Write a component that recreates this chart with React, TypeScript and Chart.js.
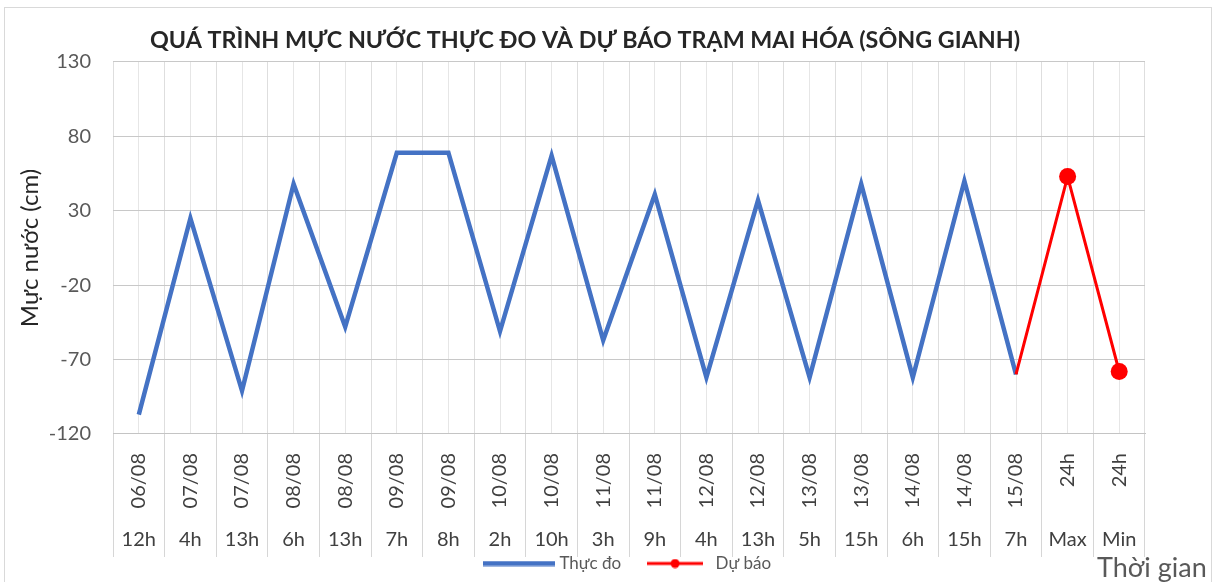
import React, { useEffect, useRef } from "react";
import { Chart, registerables } from "chart.js";

Chart.register(...registerables);

const chartTitle = "QUÁ TRÌNH MỰC NƯỚC THỰC ĐO VÀ DỰ BÁO TRẠM MAI HÓA (SÔNG GIANH)";
const yTitle = "Mực nước (cm)";
const xTitle = "Thời gian";
const seriesNames = ["Thực đo", "Dự báo"];

const dateLabels = [
  "06/08", "07/08", "07/08", "08/08", "08/08", "09/08", "09/08", "10/08", "10/08", "11/08",
  "11/08", "12/08", "12/08", "13/08", "13/08", "14/08", "14/08", "15/08", "24h", "24h",
];
const hourLabels = [
  "12h", "4h", "13h", "6h", "13h", "7h", "8h", "2h", "10h", "3h",
  "9h", "4h", "13h", "5h", "15h", "6h", "15h", "7h", "Max", "Min",
];
const observed = [
  -107, 25, -91, 48, -48, 69, 69, -51, 67, -57,
  41, -82, 37, -82, 48, -82, 50, -80, null, null,
];
const forecast = [
  null, null, null, null, null, null, null, null, null, null,
  null, null, null, null, null, null, null, -80, 53, -78,
];
const yMin = -120;
const yMax = 130;
const yStep = 50;

const FONT = "Lato, 'Open Sans', sans-serif";
const BLUE = "#4472C4";
const RED = "#FF0000";

function makeLineSample(w: number, h: number, color: string, lw: number, dot: number) {
  const c = document.createElement("canvas");
  c.width = w;
  c.height = h;
  const g = c.getContext("2d")!;
  g.strokeStyle = color;
  g.lineWidth = lw;
  g.beginPath();
  g.moveTo(0, h / 2);
  g.lineTo(w, h / 2);
  g.stroke();
  if (dot > 0) {
    g.fillStyle = color;
    g.beginPath();
    g.arc(w / 2, h / 2, dot, 0, Math.PI * 2);
    g.fill();
  }
  return c;
}

export default function App() {
  const ref = useRef<HTMLCanvasElement | null>(null);

  useEffect(() => {
    if (!ref.current) return;
    const blueSample = makeLineSample(72, 6, BLUE, 5, 0);
    const redSample = makeLineSample(56, 10, RED, 3, 4.5);
    const samples = [blueSample, redSample];
    const colors = [BLUE, RED];

    const chart = new Chart(ref.current, {
      type: "line",
      data: {
        labels: dateLabels,
        datasets: [
          {
            label: seriesNames[0],
            data: observed,
            borderColor: BLUE,
            backgroundColor: BLUE,
            borderWidth: 4.5,
            pointRadius: 0,
            spanGaps: false,
            order: 2,
          },
          {
            label: seriesNames[1],
            data: forecast,
            borderColor: RED,
            backgroundColor: RED,
            borderWidth: 3,
            pointRadius: (ctx: any) => (ctx.dataIndex >= forecast.length - 2 ? 8.5 : 0),
            pointBorderWidth: 0,
            spanGaps: false,
            order: 1,
          },
        ],
      },
      options: {
        responsive: false,
        animation: false,
        layout: { padding: { left: 25, right: 72, top: 26, bottom: 0 } },
        plugins: {
          title: {
            display: true,
            text: chartTitle,
            color: "#262626",
            font: { family: FONT, size: 23.3, weight: "bold" },
            padding: { top: 0, bottom: 8 },
          },
          legend: {
            position: "bottom",
            fullSize: false,
            labels: {
              usePointStyle: true,
              pointStyleWidth: 64,
              padding: 22,
              color: "#595959",
              font: { family: FONT, size: 17 },
              generateLabels: () =>
                seriesNames.map((name, i) => ({
                  text: name,
                  fillStyle: colors[i],
                  strokeStyle: colors[i],
                  lineWidth: 0,
                  pointStyle: samples[i],
                  hidden: false,
                  datasetIndex: i,
                  fontColor: "#595959",
                })),
            },
          },
          tooltip: { enabled: false },
        },
        scales: {
          x: {
            type: "category",
            labels: dateLabels,
            position: "bottom",
            offset: true,
            weight: 0,
            grid: { offset: true, color: "#dedede", tickColor: "#d6d6d6", tickLength: 123, drawTicks: true },
            border: { display: true, color: "#c4c4c4" },
            ticks: {
              autoSkip: false,
              minRotation: 90,
              maxRotation: 90,
              padding: -104,
              color: "#404040",
              font: { family: FONT, size: 20 },
            },
            afterFit: (s: any) => {
              s.height = 77;
            },
          },
          x2: {
            type: "category",
            labels: hourLabels,
            position: "bottom",
            offset: true,
            weight: 1,
            grid: {
              offset: false,
              color: "#e6e6e6",
              drawTicks: false,
              drawOnChartArea: true,
            },
            border: { display: false },
            ticks: {
              autoSkip: false,
              mirror: true,
              maxRotation: 0,
              minRotation: 0,
              padding: -41,
              color: "#404040",
              font: { family: FONT, size: 20 },
            },
            afterFit: (s: any) => {
              s.height = 22;
            },
          },
          y: {
            type: "linear",
            min: yMin,
            max: yMax,
            ticks: {
              stepSize: yStep,
              padding: 22,
              color: "#595959",
              font: { family: FONT, size: 20 },
            },
            grid: { color: "#c8c8c8", drawTicks: false },
            border: { display: false },
            title: {
              display: true,
              text: yTitle,
              color: "#262626",
              font: { family: FONT, size: 24 },
              padding: { top: -9, bottom: 0 },
            },
            afterFit: (s: any) => {
              s.width = 88;
            },
          },
        },
      },
    } as any);
    return () => chart.destroy();
  }, []);

  return (
    <div style={{ position: "fixed", left: 0, top: 0, width: 1217, height: 582, background: "#fff", overflow: "hidden" }}>
      <div
        style={{
          position: "absolute",
          left: 4,
          top: 7,
          width: 1208,
          height: 600,
          border: "1px solid #d9d9d9",
          boxSizing: "border-box",
        }}
      />
      <canvas ref={ref} width={1217} height={582} style={{ position: "absolute", left: 0, top: 0 }} />
      <div
        style={{
          position: "absolute",
          left: 1097,
          top: 552,
          fontFamily: FONT,
          fontSize: 27,
          lineHeight: "30px",
          color: "#595959",
          whiteSpace: "nowrap",
        }}
      >
        {xTitle}
      </div>
    </div>
  );
}
